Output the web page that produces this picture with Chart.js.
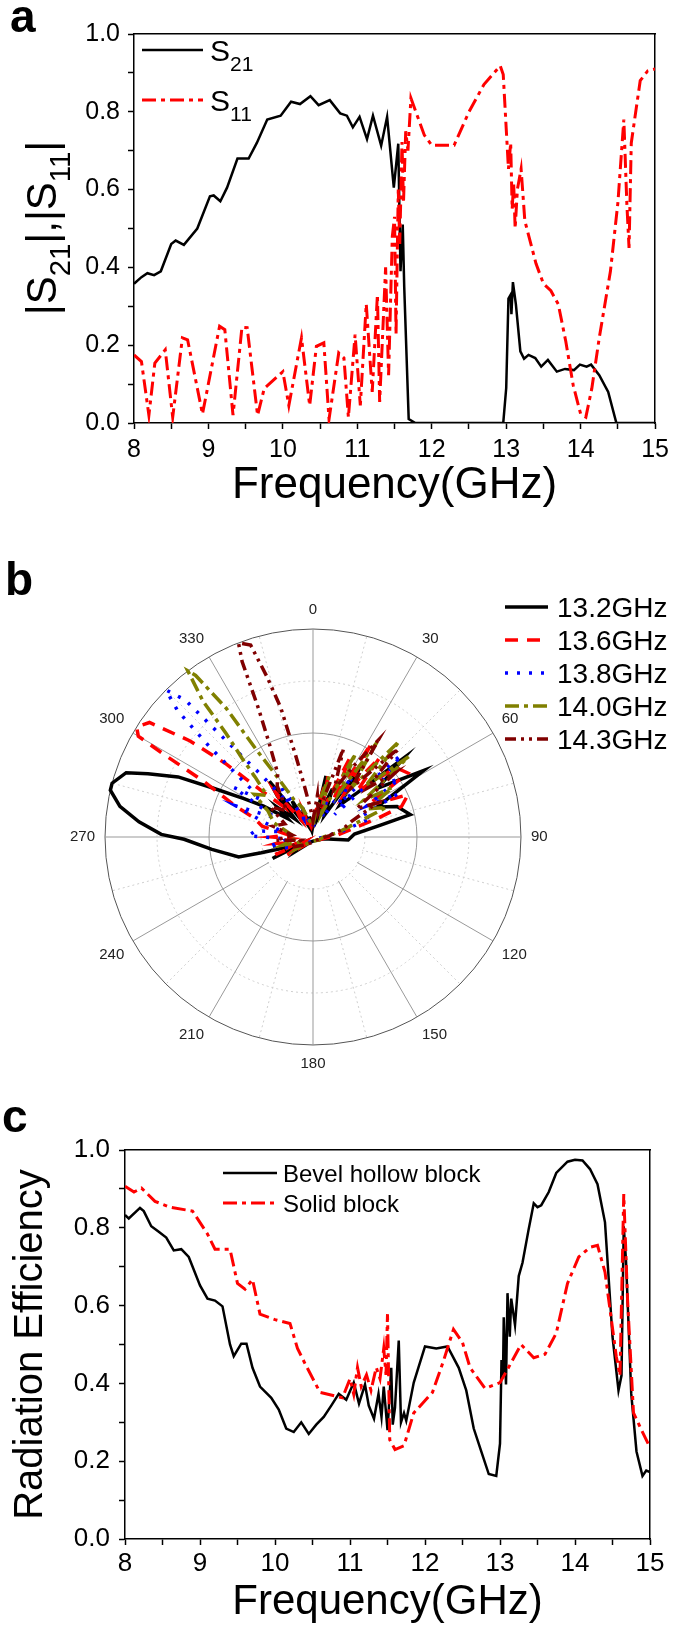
<!DOCTYPE html>
<html>
<head>
<meta charset="utf-8">
<script src="https://cdn.jsdelivr.net/npm/chart.js@4.4.1/dist/chart.umd.min.js"></script>
<style>
  body { margin: 0; width: 675px; height: 1632px; position: relative; background: #fff; overflow: hidden; }
  canvas { position: absolute; left: 0; }
  .tag { position: absolute; font: bold 46px "Liberation Sans", Arial, sans-serif; line-height: 46px; color: #000; }
</style>
</head>
<body>
<canvas id="chartA" width="675" height="520" style="top:0"></canvas>
<canvas id="chartB" width="675" height="550" style="top:540px"></canvas>
<canvas id="chartC" width="675" height="542" style="top:1090px"></canvas>
<div class="tag" style="left:10px; top:-7px">a</div>
<div class="tag" style="left:5px; top:556px">b</div>
<div class="tag" style="left:2px; top:1093px">c</div>
<script>
// ---------- panel a : |S21|, |S11| ----------
const freqS21 = [8.0, 8.1, 8.18, 8.27, 8.36, 8.5, 8.56, 8.67, 8.85, 9.02, 9.07, 9.16, 9.25, 9.39, 9.54, 9.65, 9.79, 9.97, 10.11, 10.23, 10.37, 10.48, 10.63, 10.77, 10.86, 10.94, 11.03, 11.13, 11.21, 11.32, 11.4, 11.49, 11.55, 11.58, 11.61, 11.63, 11.69, 11.78, 12.0, 12.5, 12.96, 13.0, 13.03, 13.06, 13.07, 13.09, 13.13, 13.19, 13.24, 13.3, 13.39, 13.47, 13.56, 13.68, 13.79, 13.91, 13.99, 14.08, 14.14, 14.25, 14.37, 14.48, 14.7, 15.0];
const valS21 = [0.358, 0.375, 0.385, 0.38, 0.39, 0.46, 0.469, 0.458, 0.5, 0.583, 0.585, 0.57, 0.605, 0.68, 0.68, 0.72, 0.78, 0.79, 0.826, 0.82, 0.84, 0.817, 0.83, 0.796, 0.79, 0.76, 0.787, 0.73, 0.79, 0.713, 0.787, 0.605, 0.718, 0.39, 0.51, 0.35, 0.01, 0.0, 0.0, 0.0, 0.0, 0.09, 0.32, 0.33, 0.28, 0.362, 0.305, 0.184, 0.165, 0.175, 0.167, 0.145, 0.162, 0.132, 0.139, 0.136, 0.15, 0.145, 0.15, 0.123, 0.08, 0.0, 0.0, 0.0];
const freqS11 = [8.0, 8.1, 8.2, 8.28, 8.42, 8.52, 8.65, 8.72, 8.92, 9.15, 9.22, 9.33, 9.45, 9.52, 9.66, 9.75, 10.0, 10.08, 10.25, 10.36, 10.45, 10.55, 10.62, 10.75, 10.82, 10.88, 10.97, 11.04, 11.12, 11.2, 11.27, 11.3, 11.38, 11.42, 11.47, 11.5, 11.52, 11.55, 11.57, 11.6, 11.62, 11.65, 11.68, 11.72, 11.9, 12.0, 12.3, 12.5, 12.7, 12.92, 12.96, 13.0, 13.03, 13.06, 13.08, 13.1, 13.12, 13.15, 13.2, 13.25, 13.4, 13.5, 13.6, 13.7, 13.8, 13.9, 14.0, 14.07, 14.15, 14.25, 14.4, 14.5, 14.58, 14.62, 14.65, 14.68, 14.8, 14.9, 15.0];
const valS11 = [0.175, 0.158, 0.02, 0.154, 0.188, 0.015, 0.219, 0.214, 0.023, 0.249, 0.24, 0.02, 0.246, 0.245, 0.02, 0.089, 0.132, 0.045, 0.219, 0.045, 0.197, 0.206, 0.01, 0.18, 0.167, 0.015, 0.227, 0.045, 0.306, 0.08, 0.33, 0.054, 0.4, 0.123, 0.48, 0.53, 0.227, 0.6, 0.46, 0.722, 0.566, 0.75, 0.7, 0.835, 0.74, 0.714, 0.714, 0.8, 0.87, 0.918, 0.896, 0.757, 0.653, 0.72, 0.55, 0.618, 0.5, 0.6, 0.653, 0.52, 0.41, 0.358, 0.34, 0.305, 0.21, 0.097, 0.023, 0.015, 0.089, 0.219, 0.39, 0.566, 0.78, 0.566, 0.45, 0.72, 0.88, 0.905, 0.91];

// ---------- panel b : radiation patterns (angle in deg, normalised radius) ----------
const polarTickLabels = [0, 30, 60, 90, 120, 150, 180, 210, 240, 270, 300, 330];
const ang132 = [0, 10, 12, 15, 22, 28, 34, 40, 45, 49, 53, 59, 65, 70, 77, 80, 86, 95, 100, 120, 150, 180, 210, 230, 238, 242, 246, 249, 253, 255, 263, 269, 271, 275, 279, 283, 285, 289, 291, 294, 296, 299, 302, 306, 310, 315, 319, 322, 325, 330, 335, 340, 345, 350, 355];
const rad132 = [0.06, 0.12, 0.30, 0.1, 0.25, 0.12, 0.41, 0.2, 0.3, 0.58, 0.39, 0.62, 0.34, 0.43, 0.48, 0.33, 0.2, 0.17, 0.05, 0.03, 0.02, 0.02, 0.03, 0.1, 0.05, 0.22, 0.08, 0.14, 0.26, 0.37, 0.49, 0.62, 0.73, 0.84, 0.94, 1.0, 1.0, 0.95, 0.85, 0.71, 0.54, 0.38, 0.28, 0.15, 0.22, 0.12, 0.26, 0.34, 0.12, 0.2, 0.08, 0.15, 0.05, 0.1, 0.04];
const ang136 = [0, 8, 14, 18, 25, 29, 32, 36, 40, 44, 50, 56, 60, 66, 71, 74, 78, 85, 95, 120, 180, 220, 235, 240, 245, 250, 260, 265, 270, 275, 282, 288, 292, 297, 299, 300, 302, 305, 308, 310, 312, 316, 320, 325, 330, 335, 340, 350];
const rad136 = [0.08, 0.15, 0.3, 0.12, 0.42, 0.2, 0.53, 0.25, 0.5, 0.3, 0.52, 0.55, 0.3, 0.5, 0.45, 0.32, 0.2, 0.12, 0.06, 0.03, 0.02, 0.04, 0.15, 0.05, 0.2, 0.08, 0.18, 0.1, 0.2, 0.12, 0.25, 0.3, 0.41, 0.59, 0.82, 0.97, 1.0, 0.96, 0.75, 0.55, 0.33, 0.2, 0.28, 0.1, 0.18, 0.06, 0.12, 0.05];
const ang138 = [0, 10, 20, 26, 33, 38, 41, 44, 47, 52, 56, 60, 63, 67, 72, 78, 90, 120, 180, 230, 240, 250, 258, 265, 271, 276, 280, 287, 292, 297, 302, 306, 309, 311, 313, 315, 317, 318, 320, 324, 328, 333, 340, 350];
const rad138 = [0.05, 0.1, 0.2, 0.1, 0.35, 0.2, 0.31, 0.15, 0.58, 0.4, 0.5, 0.3, 0.46, 0.25, 0.3, 0.15, 0.05, 0.02, 0.02, 0.05, 0.1, 0.15, 0.22, 0.12, 0.31, 0.28, 0.15, 0.25, 0.4, 0.2, 0.45, 0.3, 0.45, 0.65, 0.89, 1.0, 0.9, 0.62, 0.4, 0.2, 0.3, 0.1, 0.15, 0.06];
const ang140 = [0, 8, 15, 20, 27, 31, 34, 38, 42, 46, 50, 54, 58, 63, 68, 73, 80, 90, 120, 180, 220, 235, 245, 255, 265, 280, 290, 300, 306, 312, 316, 318, 320, 321, 323, 324, 326, 327, 329, 333, 340, 348];
const rad140 = [0.06, 0.15, 0.3, 0.12, 0.45, 0.25, 0.55, 0.3, 0.62, 0.35, 0.6, 0.3, 0.45, 0.3, 0.38, 0.2, 0.12, 0.05, 0.03, 0.02, 0.04, 0.1, 0.05, 0.15, 0.08, 0.12, 0.2, 0.25, 0.35, 0.3, 0.4, 0.51, 0.65, 0.84, 1.0, 0.96, 0.75, 0.5, 0.35, 0.2, 0.15, 0.08];
const ang143 = [0, 6, 12, 19, 24, 30, 34, 38, 44, 48, 52, 57, 62, 68, 75, 85, 100, 150, 200, 230, 245, 255, 265, 275, 285, 295, 305, 315, 325, 331, 335, 337, 338, 339, 342, 344, 346, 348, 350, 354, 358];
const rad143 = [0.08, 0.2, 0.12, 0.45, 0.25, 0.4, 0.56, 0.3, 0.59, 0.35, 0.5, 0.25, 0.35, 0.2, 0.15, 0.08, 0.04, 0.02, 0.03, 0.06, 0.12, 0.06, 0.18, 0.1, 0.2, 0.15, 0.25, 0.18, 0.3, 0.35, 0.5, 0.67, 0.91, 1.0, 0.97, 0.8, 0.64, 0.4, 0.27, 0.15, 0.1];

// ---------- panel c : radiation efficiency ----------
const freqBevel = [8.0, 8.05, 8.2, 8.25, 8.35, 8.45, 8.55, 8.65, 8.75, 8.85, 9.0, 9.1, 9.2, 9.3, 9.4, 9.45, 9.55, 9.62, 9.7, 9.8, 9.95, 10.05, 10.15, 10.25, 10.35, 10.45, 10.55, 10.65, 10.75, 10.85, 10.95, 11.05, 11.12, 11.2, 11.25, 11.32, 11.38, 11.42, 11.45, 11.5, 11.55, 11.57, 11.6, 11.65, 11.68, 11.72, 11.75, 11.85, 12.0, 12.15, 12.3, 12.45, 12.55, 12.65, 12.75, 12.85, 12.95, 13.0, 13.02, 13.04, 13.05, 13.08, 13.1, 13.13, 13.15, 13.2, 13.25, 13.3, 13.38, 13.45, 13.5, 13.55, 13.65, 13.75, 13.9, 14.0, 14.1, 14.2, 14.3, 14.4, 14.5, 14.58, 14.62, 14.65, 14.68, 14.75, 14.82, 14.9, 14.95, 15.0];
const effBevel = [0.833, 0.824, 0.851, 0.843, 0.804, 0.79, 0.775, 0.742, 0.745, 0.725, 0.652, 0.618, 0.613, 0.598, 0.5, 0.47, 0.502, 0.502, 0.44, 0.392, 0.363, 0.333, 0.284, 0.275, 0.3, 0.27, 0.294, 0.314, 0.343, 0.373, 0.358, 0.402, 0.348, 0.397, 0.343, 0.309, 0.373, 0.314, 0.392, 0.28, 0.44, 0.294, 0.338, 0.51, 0.3, 0.324, 0.304, 0.402, 0.495, 0.49, 0.495, 0.44, 0.382, 0.284, 0.225, 0.167, 0.162, 0.245, 0.46, 0.42, 0.57, 0.397, 0.632, 0.52, 0.618, 0.55, 0.676, 0.71, 0.794, 0.863, 0.853, 0.858, 0.892, 0.941, 0.97, 0.975, 0.973, 0.951, 0.912, 0.814, 0.52, 0.382, 0.42, 0.804, 0.716, 0.373, 0.225, 0.162, 0.176, 0.172];
const freqSolid = [8.0, 8.12, 8.22, 8.4, 8.6, 8.9, 9.1, 9.2, 9.4, 9.5, 9.6, 9.7, 9.8, 10.0, 10.2, 10.3, 10.4, 10.6, 10.9, 11.0, 11.05, 11.1, 11.15, 11.22, 11.28, 11.35, 11.4, 11.45, 11.48, 11.5, 11.53, 11.6, 11.72, 11.85, 12.1, 12.25, 12.38, 12.5, 12.6, 12.8, 13.0, 13.1, 13.28, 13.45, 13.6, 13.75, 13.9, 14.05, 14.2, 14.3, 14.4, 14.55, 14.6, 14.65, 14.7, 14.78, 14.9, 15.0];
const effSolid = [0.907, 0.892, 0.902, 0.868, 0.853, 0.843, 0.784, 0.745, 0.745, 0.657, 0.642, 0.667, 0.578, 0.564, 0.554, 0.49, 0.451, 0.377, 0.363, 0.412, 0.372, 0.441, 0.392, 0.422, 0.382, 0.441, 0.412, 0.49, 0.422, 0.578, 0.255, 0.23, 0.24, 0.324, 0.377, 0.46, 0.539, 0.505, 0.441, 0.387, 0.402, 0.436, 0.5, 0.466, 0.475, 0.529, 0.657, 0.725, 0.75, 0.755, 0.686, 0.47, 0.42, 0.887, 0.618, 0.324, 0.275, 0.235];

const FONT = '"Liberation Sans", Arial, sans-serif';
Chart.defaults.font.family = FONT;
Chart.defaults.color = '#000';

const pairs = (xs, ys) => xs.map((x, i) => ({ x: x, y: ys[i] }));
function polarSeries(angles, radii) {
    const out = new Array(360).fill(null);
    angles.forEach((a, i) => { out[a] = radii[i]; });
    return out;
}

// text with _{sub} parts, y = baseline
function drawRich(ctx, text, x, y, size, align) {
    const parts = [];
    text.replace(/([^_]+)|_\{([^}]*)\}/g, (m, plain, sub) => {
        parts.push(sub !== undefined ? { t: sub, sub: true } : { t: plain, sub: false });
    });
    const subSize = size * 0.7;
    let total = 0;
    parts.forEach(p => {
        ctx.font = (p.sub ? subSize : size) + 'px ' + FONT;
        p.w = ctx.measureText(p.t).width;
        total += p.w;
    });
    let cx = align === 'center' ? x - total / 2 : x;
    ctx.textAlign = 'left';
    ctx.textBaseline = 'alphabetic';
    parts.forEach(p => {
        ctx.font = (p.sub ? subSize : size) + 'px ' + FONT;
        ctx.fillText(p.t, cx, y + (p.sub ? size * 0.33 : 0));
        cx += p.w;
    });
}

// legend drawn inside the plot, one row per dataset
const inlineLegend = {
    id: 'inlineLegend',
    afterDraw(chart, args, o) {
        const ctx = chart.ctx;
        ctx.save();
        chart.data.datasets.forEach((ds, i) => {
            const y = o.y + i * o.rowGap;
            ctx.strokeStyle = ds.borderColor;
            ctx.lineWidth = ds.borderWidth;
            ctx.setLineDash(ds.borderDash || []);
            ctx.beginPath();
            ctx.moveTo(o.x, y);
            ctx.lineTo(o.x + o.lineLen, y);
            ctx.stroke();
            ctx.setLineDash([]);
            ctx.fillStyle = '#000';
            drawRich(ctx, ds.label, o.x + o.lineLen + o.gap, y + o.size * 0.36, o.size, 'left');
        });
        ctx.restore();
    }
};

// rotated y title with subscripts
const sideTitle = {
    id: 'sideTitle',
    afterDraw(chart, args, o) {
        const ctx = chart.ctx;
        ctx.save();
        ctx.translate(o.x, o.y);
        ctx.rotate(-Math.PI / 2);
        ctx.fillStyle = '#000';
        drawRich(ctx, o.text, 0, 0, o.size, 'center');
        ctx.restore();
    }
};

// blank the hub of the polar grid so spokes start at the inner ring
const polarHub = {
    id: 'polarHub',
    beforeDatasetsDraw(chart) {
        const r = chart.scales.r;
        const ctx = chart.ctx;
        ctx.save();
        ctx.fillStyle = '#fff';
        ctx.beginPath();
        ctx.arc(r.xCenter, r.yCenter, r.getDistanceFromCenterForValue(0.25) - 1, 0, Math.PI * 2);
        ctx.fill();
        ctx.restore();
    }
};

function frameAxis(pos) {
    return {
        type: 'linear', position: pos, min: pos === 'top' ? 8 : 0, max: pos === 'top' ? 15 : 1,
        grid: { display: false, drawTicks: false },
        ticks: { display: false },
        border: { display: true, color: '#000', width: 1.5 }
    };
}

function xAxis(height, fontSize, tickPad, titleSize, titlePad) {
    return {
        type: 'linear', position: 'bottom', min: 8, max: 15,
        afterFit: s => { s.height = height; },
        grid: { display: true, drawOnChartArea: false, drawTicks: true, tickLength: 6, tickWidth: 1.5, tickColor: '#000' },
        border: { display: true, color: '#000', width: 1.5 },
        ticks: { stepSize: 0.5, autoSkip: false, maxRotation: 0, padding: tickPad, font: { size: fontSize },
                 callback: v => Number.isInteger(v) ? String(v) : '' },
        title: { display: true, text: 'Frequency(GHz)', font: { size: titleSize }, padding: { top: 0, bottom: titlePad } }
    };
}

function yAxis(width, fontSize, tickPad, title) {
    return {
        type: 'linear', position: 'left', min: 0, max: 1,
        afterFit: s => { s.width = width; },
        grid: { display: true, drawOnChartArea: false, drawTicks: true, tickLength: 6, tickWidth: 1.5, tickColor: '#000' },
        border: { display: true, color: '#000', width: 1.5 },
        ticks: { stepSize: 0.1, autoSkip: false, padding: tickPad, font: { size: fontSize },
                 callback: v => Math.round(v * 10) % 2 === 0 ? v.toFixed(1) : '' },
        title: title
    };
}

// ==================== PANEL A ====================
new Chart(document.getElementById('chartA'), {
    type: 'line',
    data: {
        datasets: [
            { label: 'S_{21}', data: pairs(freqS21, valS21), borderColor: '#000', borderWidth: 2.5, pointRadius: 0, tension: 0, order: 0 },
            { label: 'S_{11}', data: pairs(freqS11, valS11), borderColor: '#ff0000', borderWidth: 3, borderDash: [14, 5, 4, 5], pointRadius: 0, tension: 0, order: -1 }
        ]
    },
    options: {
        animation: false, responsive: false,
        layout: { padding: { left: 0, right: 17, top: 34, bottom: 0 } },
        plugins: {
            legend: { display: false }, tooltip: { enabled: false },
            inlineLegend: { x: 142, y: 50, rowGap: 50, lineLen: 61, gap: 7, size: 30 },
            sideTitle: { text: '|S_{21}|,|S_{11}|', x: 56, y: 228, size: 42 }
        },
        scales: {
            x: xAxis(97, 25, 6, 44, 8),
            y: yAxis(134, 25, 8, { display: false }),
            x2: frameAxis('top'),
            y2: frameAxis('right')
        }
    },
    plugins: [inlineLegend, sideTitle]
});

// ==================== PANEL B ====================
const polarLabels = Array.from({ length: 360 }, (_, i) => i);
new Chart(document.getElementById('chartB'), {
    type: 'radar',
    data: {
        labels: polarLabels,
        datasets: [
            { label: '13.2GHz', data: polarSeries(ang132, rad132), borderColor: '#000000', borderWidth: 3.5, borderDash: [] },
            { label: '13.6GHz', data: polarSeries(ang136, rad136), borderColor: '#ff0000', borderWidth: 3.5, borderDash: [13, 9] },
            { label: '13.8GHz', data: polarSeries(ang138, rad138), borderColor: '#0000ff', borderWidth: 3.5, borderDash: [3, 9] },
            { label: '14.0GHz', data: polarSeries(ang140, rad140), borderColor: '#808000', borderWidth: 3.5, borderDash: [14, 5, 4, 5] },
            { label: '14.3GHz', data: polarSeries(ang143, rad143), borderColor: '#800000', borderWidth: 3.5, borderDash: [11, 5, 3, 5, 3, 5] }
        ].map((d, i) => Object.assign(d, { fill: false, spanGaps: true, pointRadius: 0, tension: 0, order: -i }))
    },
    options: {
        animation: false, responsive: false,
        layout: { padding: { left: 66, right: 123, top: 54, bottom: 10 } },
        plugins: {
            legend: { display: false }, tooltip: { enabled: false },
            inlineLegend: { x: 505, y: 67, rowGap: 33, lineLen: 43, gap: 9, size: 28 }
        },
        scales: {
            r: {
                min: 0, max: 1,
                ticks: { display: false, stepSize: 0.25 },
                grid: { circular: true, lineWidth: 1,
                        color: c => c.index === 4 ? '#555' : (c.index === 2 ? '#999' : '#cfcfcf') },
                border: { dash: c => (c.index % 2 === 1) ? [2, 3] : [] },
                angleLines: {
                    display: true,
                    lineWidth: c => c.index % 15 === 0 ? 1 : 0,
                    color: c => c.index % 30 === 0 ? '#999' : '#cfcfcf',
                    borderDash: c => c.index % 30 === 0 ? [] : [2, 3]
                },
                pointLabels: {
                    display: true, padding: 10, color: '#222', font: { size: 15 },
                    callback: (lbl, i) => polarTickLabels.includes(i) ? String(i) : ''
                }
            }
        }
    },
    plugins: [polarHub, inlineLegend]
});

// ==================== PANEL C ====================
new Chart(document.getElementById('chartC'), {
    type: 'line',
    data: {
        datasets: [
            { label: 'Bevel hollow block', data: pairs(freqBevel, effBevel), borderColor: '#000', borderWidth: 2.5, pointRadius: 0, tension: 0, order: 0 },
            { label: 'Solid block', data: pairs(freqSolid, effSolid), borderColor: '#ff0000', borderWidth: 3, borderDash: [14, 5, 4, 5], pointRadius: 0, tension: 0, order: -1 }
        ]
    },
    options: {
        animation: false, responsive: false,
        layout: { padding: { left: 0, right: 25, top: 60, bottom: 0 } },
        plugins: {
            legend: { display: false }, tooltip: { enabled: false },
            inlineLegend: { x: 223, y: 83, rowGap: 30, lineLen: 54, gap: 6, size: 24 }
        },
        scales: {
            x: xAxis(93, 26, 3, 42, 4),
            y: yAxis(125, 26, 9, { display: true, text: 'Radiation Efficiency', font: { size: 40 }, padding: { top: 7, bottom: 0 } }),
            x2: frameAxis('top'),
            y2: frameAxis('right')
        }
    },
    plugins: [inlineLegend]
});
</script>
</body>
</html>
